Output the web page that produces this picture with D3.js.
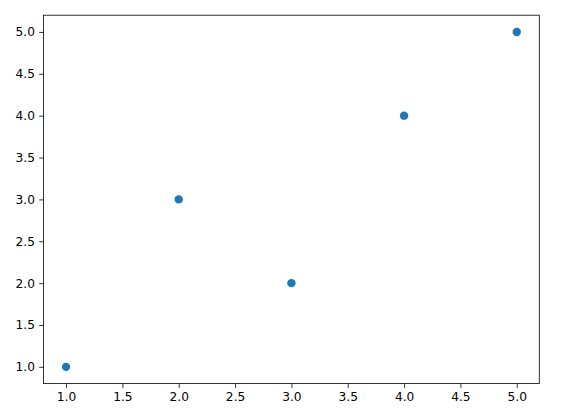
<!DOCTYPE html>
<html><head><meta charset="utf-8">
<script src="https://cdn.jsdelivr.net/npm/d3@7"></script>
<style>body{margin:0;background:#fff}svg{display:block}</style>
</head><body>
<svg id="c" width="561" height="420"></svg>
<script>
const xValues = [1, 2, 3, 4, 5];
const yValues = [1, 3, 2, 4, 5];
const xTicks = [1.0, 1.5, 2.0, 2.5, 3.0, 3.5, 4.0, 4.5, 5.0];
const yTicks = [1.0, 1.5, 2.0, 2.5, 3.0, 3.5, 4.0, 4.5, 5.0];

const svg = d3.select("#c");
const L = 43.5, R = 539.3, T = 15.2, B = 383.6;
const x = d3.scaleLinear().domain([0.8, 5.2]).range([L, R]);
const y = d3.scaleLinear().domain([0.8, 5.2]).range([B, T]);

const font = "DejaVu Sans, sans-serif";
const fs = 12.2;

const xa = svg.append("g").attr("transform", `translate(0,${B})`)
  .call(d3.axisBottom(x).tickValues(xTicks).tickFormat(d3.format(".1f")).tickSizeOuter(0).tickSize(4.3).tickPadding(4.3));
const ya = svg.append("g").attr("transform", `translate(${L},0)`)
  .call(d3.axisLeft(y).tickValues(yTicks).tickFormat(d3.format(".1f")).tickSizeOuter(0).tickSize(4.3).tickPadding(4.3));
[xa, ya].forEach(g => {
  g.select(".domain").remove();
  g.selectAll("line").attr("stroke", "#000").attr("stroke-width", 0.8);
  g.selectAll("text").attr("font-family", font).attr("font-size", fs).attr("fill", "#000");
});

svg.append("g").selectAll("circle").data(xValues).join("circle")
  .attr("cx", d => x(d)).attr("cy", (d, i) => y(yValues[i]))
  .attr("r", 4.2).attr("fill", "#1f77b4");

svg.append("rect").attr("x", L).attr("y", T).attr("width", R - L).attr("height", B - T)
  .attr("fill", "none").attr("stroke", "#000").attr("stroke-width", 0.8);
</script>
</body></html>
